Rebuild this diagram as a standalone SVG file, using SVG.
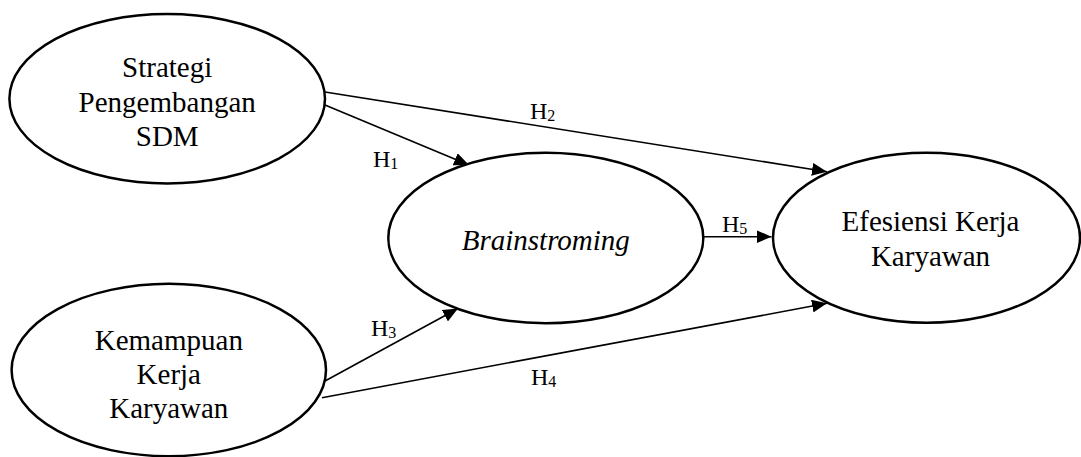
<svg xmlns="http://www.w3.org/2000/svg" width="1081" height="457" viewBox="0 0 1081 457">
<style>
.node{fill:#fff;stroke:#000;stroke-width:2.5}
.t{font-family:"Liberation Serif","Times New Roman",serif;font-size:29px;fill:#000;text-anchor:middle}
.it{font-style:italic}
.lbl{font-family:"Liberation Serif","Times New Roman",serif;font-size:24px;fill:#000}
.sub{font-size:16px}
.edge{stroke:#000;stroke-width:1.6;fill:none;marker-end:url(#arr)}
</style>
<defs>
<marker id="arr" markerUnits="userSpaceOnUse" markerWidth="16" markerHeight="13" refX="15" refY="6.5" orient="auto">
<path d="M0,0 L15,6.5 L0,13 z" fill="#000"/>
</marker>
</defs>
<rect width="1081" height="457" fill="#fff"/>
<g id="connectors">
<line class="edge" x1="325" y1="105" x2="469" y2="165"/>
<line class="edge" x1="325" y1="92" x2="827" y2="171.7"/>
<line class="edge" x1="325" y1="381" x2="458" y2="308.5"/>
<line class="edge" x1="322" y1="397.7" x2="827" y2="303.3"/>
<line class="edge" x1="703" y1="236.7" x2="771.5" y2="236.7"/>
<text class="lbl" x="373" y="167">H<tspan class="sub" dy="2">1</tspan></text>
<text class="lbl" x="530" y="119">H<tspan class="sub" dy="2">2</tspan></text>
<text class="lbl" x="371" y="336">H<tspan class="sub" dy="2">3</tspan></text>
<text class="lbl" x="531" y="385">H<tspan class="sub" dy="2">4</tspan></text>
<text class="lbl" x="722" y="231.5">H<tspan class="sub" dy="2">5</tspan></text>
</g>
<g id="strategi">
<ellipse class="node" cx="167.2" cy="98.7" rx="157.8" ry="84.7"/>
<text class="t" x="167.2" y="77">Strategi</text>
<text class="t" x="167.2" y="111.5">Pengembangan</text>
<text class="t" x="167.2" y="145.5">SDM</text>
</g>
<g id="kemampuan">
<ellipse class="node" cx="168.8" cy="370" rx="157.2" ry="86.2"/>
<text class="t" x="168.8" y="350">Kemampuan</text>
<text class="t" x="168.8" y="384">Kerja</text>
<text class="t" x="168.8" y="418">Karyawan</text>
</g>
<g id="brainstroming">
<ellipse class="node" cx="545.8" cy="238" rx="157.5" ry="85.3"/>
<text class="t it" x="545.8" y="250">Brainstroming</text>
</g>
<g id="efesiensi">
<ellipse class="node" cx="926.5" cy="237.7" rx="153.5" ry="85"/>
<text class="t" x="930.5" y="231">Efesiensi Kerja</text>
<text class="t" x="930.5" y="266">Karyawan</text>
</g>
</svg>
